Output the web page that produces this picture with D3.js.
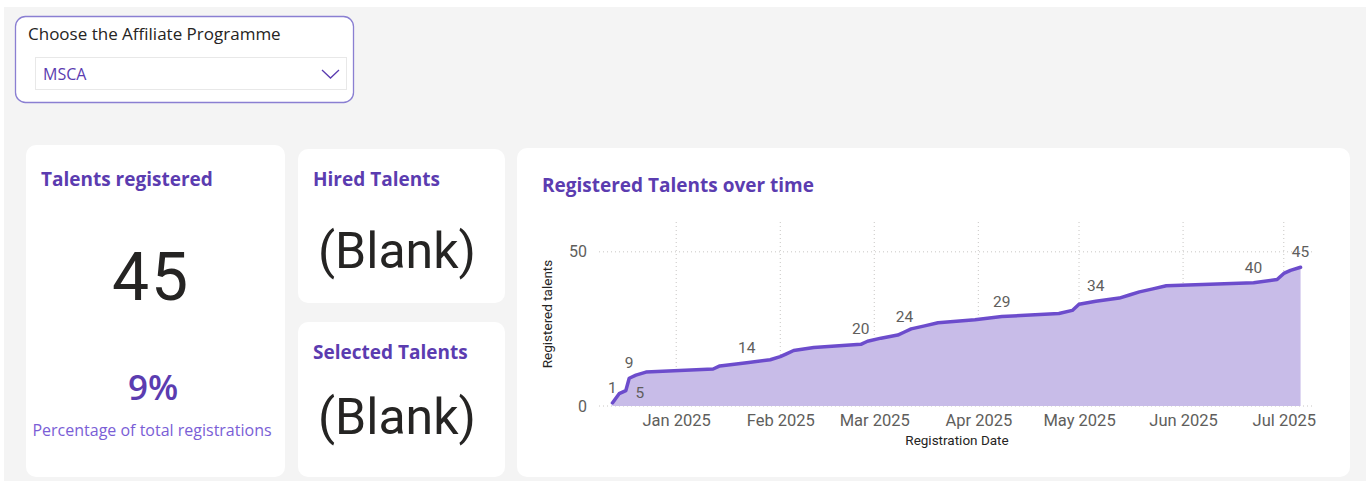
<!DOCTYPE html>
<html>
<head>
<meta charset="utf-8">
<script src="https://cdn.jsdelivr.net/npm/d3@7/dist/d3.min.js"></script>
<style>
  html, body { margin: 0; padding: 0; background: #ffffff; }
  svg { display: block; }
</style>
</head>
<body>
<svg id="page" width="1366" height="482"></svg>
<script>
// Cumulative registrations by registration date
const regDates = [
  "2024-12-13", "2024-12-15", "2024-12-17", "2024-12-18", "2024-12-20", "2024-12-23",
  "2025-01-12", "2025-01-14", "2025-01-22", "2025-01-29", "2025-02-01", "2025-02-03",
  "2025-02-05", "2025-02-11", "2025-02-25", "2025-02-27", "2025-03-03", "2025-03-08",
  "2025-03-10", "2025-03-12", "2025-03-16", "2025-03-20", "2025-03-31", "2025-04-08",
  "2025-04-25", "2025-04-29", "2025-05-01", "2025-05-06", "2025-05-13", "2025-05-16",
  "2025-05-19", "2025-05-23", "2025-05-27", "2025-06-22", "2025-06-29", "2025-07-01",
  "2025-07-03", "2025-07-06"
];
const regCumulative = [
  1, 4, 5, 9, 10, 11,
  12, 13, 14, 15, 16, 17,
  18, 19, 20, 21, 22, 23,
  24, 25, 26, 27, 28, 29,
  30, 31, 33, 34, 35, 36,
  37, 38, 39, 40, 41, 43,
  44, 45
];
// Points that carry a data label
const labelledDates = ["2024-12-13", "2024-12-17", "2024-12-18", "2025-01-22", "2025-02-25",
  "2025-03-10", "2025-04-08", "2025-05-06", "2025-06-22", "2025-07-06"];
const labelledBelow = ["2024-12-17"];

const monthTicks = ["2025-01-01", "2025-02-01", "2025-03-01", "2025-04-01", "2025-05-01", "2025-06-01", "2025-07-01"];
const yTicks = [0, 50];

// KPI card texts
const slicerTitle = "Choose the Affiliate Programme";
const slicerValue = "MSCA";
const talentsRegistered = 45;
const shareOfTotal = "9%";
const shareCaption = "Percentage of total registrations";
const hiredValue = "(Blank)";
const selectedValue = "(Blank)";

const PURPLE = "#5b3cb0";
const INK = "#252423";
const GREY = "#605e5c";
const parse = d3.timeParse("%Y-%m-%d");
const fmtKey = d3.timeFormat("%Y-%m-%d");

const svg = d3.select("#page");

// page background
svg.append("rect").attr("x", 4).attr("y", 7).attr("width", 1362).attr("height", 474).attr("fill", "#f4f4f4");

// ---------- slicer ----------
const slicer = svg.append("g");
slicer.append("rect").attr("x", 15.5).attr("y", 16.5).attr("width", 338).attr("height", 86)
  .attr("rx", 10).attr("fill", "#fff").attr("stroke", "#8a7fd2").attr("stroke-width", 1.3);
slicer.append("text").attr("x", 28).attr("y", 40).attr("font-family", "Open Sans")
  .attr("font-size", 17).attr("fill", INK).text(slicerTitle);
slicer.append("rect").attr("x", 35.5).attr("y", 57.5).attr("width", 311).attr("height", 32)
  .attr("fill", "#fff").attr("stroke", "#e8e8e8");
slicer.append("text").attr("x", 43).attr("y", 80).attr("font-family", "Open Sans")
  .attr("font-size", 16).attr("fill", PURPLE).text(slicerValue);
slicer.append("path").attr("d", "M322,70 L330.5,78 L339,70").attr("fill", "none")
  .attr("stroke", "#5b3cb0").attr("stroke-width", 1.3);

// ---------- cards ----------
function card(x, y, w, h) {
  svg.append("rect").attr("x", x).attr("y", y).attr("width", w).attr("height", h)
    .attr("rx", 10).attr("fill", "#ffffff");
}
card(26, 145, 259, 332);
card(298, 149, 207, 154);
card(298, 322, 207, 155);
card(517, 148, 833, 329);

function title(x, y, t, size) {
  svg.append("text").attr("x", x).attr("y", y).attr("font-family", "Open Sans")
    .attr("font-weight", 700).attr("font-size", size).attr("fill", PURPLE).text(t);
}
title(41, 186, "Talents registered", 19);
title(313, 186, "Hired Talents", 19);
title(313, 359, "Selected Talents", 19);
title(542, 192, "Registered Talents over time", 19);

svg.append("text").attr("x", 151).attr("y", 300).attr("text-anchor", "middle")
  .attr("font-family", "Roboto").attr("font-size", 66).attr("letter-spacing", 2)
  .attr("fill", INK).text(talentsRegistered);
svg.append("text").attr("x", 153).attr("y", 400).attr("text-anchor", "middle")
  .attr("font-family", "Open Sans").attr("font-weight", 600).attr("font-size", 35)
  .attr("fill", PURPLE).text(shareOfTotal);
svg.append("text").attr("x", 152).attr("y", 436).attr("text-anchor", "middle")
  .attr("font-family", "Open Sans").attr("font-size", 16).attr("fill", "#7a5ed6").text(shareCaption);
svg.append("text").attr("x", 397).attr("y", 268).attr("text-anchor", "middle")
  .attr("font-family", "Roboto").attr("font-size", 50).attr("fill", INK).text(hiredValue);
svg.append("text").attr("x", 397).attr("y", 434).attr("text-anchor", "middle")
  .attr("font-family", "Roboto").attr("font-size", 50).attr("fill", INK).text(selectedValue);

// ---------- line / area chart ----------
const data = regDates.map((d, i) => ({ date: parse(d), value: regCumulative[i] }));

const x = d3.scaleTime()
  .domain([parse("2024-12-09"), parse("2025-07-10")])
  .range([599, 1314]);
const y = d3.scaleLinear().domain([0, 60]).range([406, 221]);

const chart = svg.append("g");

// vertical month gridlines
chart.append("g").selectAll("line").data(monthTicks.map(parse)).join("line")
  .attr("x1", d => x(d)).attr("x2", d => x(d)).attr("y1", 222).attr("y2", 406)
  .attr("stroke", "#c8c6c4").attr("stroke-width", 1).attr("stroke-dasharray", "1,3");
// horizontal gridlines
chart.append("g").selectAll("line").data(yTicks).join("line")
  .attr("x1", 599).attr("x2", 1314).attr("y1", d => y(d)).attr("y2", d => y(d))
  .attr("stroke", "#c8c6c4").attr("stroke-width", 1).attr("stroke-dasharray", "1,3");

const area = d3.area().x(d => x(d.date)).y0(y(0)).y1(d => y(d.value));
const line = d3.line().x(d => x(d.date)).y(d => y(d.value));

chart.append("path").datum(data).attr("d", area).attr("fill", "#c8bce8");
chart.append("path").datum(data).attr("d", line).attr("fill", "none")
  .attr("stroke", "#6c4ccc").attr("stroke-width", 3.5)
  .attr("stroke-linejoin", "round").attr("stroke-linecap", "round");

// data labels
const labelled = data.filter(d => labelledDates.includes(fmtKey(d.date)));
const isBelow = d => labelledBelow.includes(fmtKey(d.date));
chart.append("g").selectAll("text").data(labelled).join("text")
  .attr("x", d => x(d.date) + (isBelow(d) ? 14 : 0))
  .attr("y", d => isBelow(d) ? y(d.value) + 7 : y(d.value) - 10)
  .attr("text-anchor", "middle").attr("font-family", "Roboto").attr("font-size", 15.5)
  .attr("fill", GREY).text(d => d.value);

// axes
const xAxis = d3.axisBottom(x).tickValues(monthTicks.map(parse))
  .tickFormat(d3.timeFormat("%b %Y")).tickSize(0).tickPadding(8);
const gx = chart.append("g").attr("transform", "translate(0,406)").call(xAxis);
gx.select(".domain").remove();
gx.selectAll("text").attr("font-family", "Roboto").attr("font-size", 16.5).attr("fill", GREY);

const yAxis = d3.axisLeft(y).tickValues(yTicks).tickSize(0).tickPadding(12);
const gy = chart.append("g").attr("transform", "translate(599,0)").call(yAxis);
gy.select(".domain").remove();
gy.selectAll("text").attr("font-family", "Roboto").attr("font-size", 16).attr("fill", GREY);

chart.append("text").attr("x", 957).attr("y", 445).attr("text-anchor", "middle")
  .attr("font-family", "Roboto").attr("font-size", 13.5).attr("fill", INK).text("Registration Date");
chart.append("text").attr("transform", "translate(552,314) rotate(-90)").attr("text-anchor", "middle")
  .attr("font-family", "Roboto").attr("font-size", 13.5).attr("fill", INK).text("Registered talents");
</script>
</body>
</html>
